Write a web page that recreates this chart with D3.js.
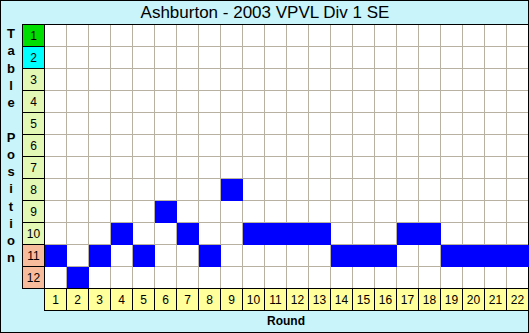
<!DOCTYPE html>
<html>
<head>
<meta charset="utf-8">
<script src="https://cdn.jsdelivr.net/npm/d3@7"></script>
<style>
  body { margin: 0; background: #fff; }
  svg { display: block; }
  text { font-family: Arial, "Liberation Sans", sans-serif; }
</style>
</head>
<body>
<script>
const title = "Ashburton - 2003 VPVL Div 1 SE";
const rounds = d3.range(1, 23);
const positions = d3.range(1, 13);
// table position after each round
const finish = [11, 12, 11, 10, 11, 9, 10, 11, 8, 10, 10, 10, 10, 11, 11, 11, 10, 10, 11, 11, 11, 11];
const yLabel = "Table Position";
const xLabel = "Round";

function posColor(p) {
  if (p === 1) return "#00dd00";
  if (p === 2) return "#00ffff";
  if (p >= 11) return "#f6bc9c";
  return "#e2f8b4";
}

const width = 529, height = 333;
const margin = { top: 24, left: 44, right: 1, bottom: 45 };

const svg = d3.select("body").append("svg").attr("width", width).attr("height", height);

// background + outer frame
svg.append("rect").attr("x", 0.5).attr("y", 0.5).attr("width", width - 1).attr("height", height - 1)
  .attr("fill", "#c8f4fa").attr("stroke", "#000");

const x = d3.scaleBand().domain(rounds).range([margin.left, width - margin.right]);
const y = d3.scaleBand().domain(positions).range([margin.top, height - margin.bottom]);

// plot background
svg.append("rect")
  .attr("x", margin.left).attr("y", margin.top)
  .attr("width", x.range()[1] - margin.left).attr("height", y.range()[1] - margin.top)
  .attr("fill", "#fff");

// grid
const grid = svg.append("g").attr("stroke", "#b8b0a0").attr("shape-rendering", "crispEdges");
grid.selectAll("line.v").data(rounds.slice(1)).join("line")
  .attr("x1", d => x(d) + 0.5).attr("x2", d => x(d) + 0.5)
  .attr("y1", y.range()[0]).attr("y2", y.range()[1]);
grid.selectAll("line.h").data(positions.slice(1)).join("line")
  .attr("y1", d => y(d) + 0.5).attr("y2", d => y(d) + 0.5)
  .attr("x1", x.range()[0]).attr("x2", x.range()[1]);

// position cells
svg.append("g").selectAll("rect").data(finish).join("rect")
  .attr("x", (d, i) => x(rounds[i]) + 0.5)
  .attr("y", d => y(d) + 0.5)
  .attr("width", x.bandwidth()).attr("height", y.bandwidth())
  .attr("fill", "#0000ff")
  .attr("shape-rendering", "crispEdges");

// y label boxes
const yl = svg.append("g").attr("shape-rendering", "crispEdges");
yl.selectAll("rect").data(positions).join("rect")
  .attr("x", margin.left - 22 + 0.5).attr("y", d => y(d) + 0.5)
  .attr("width", 22).attr("height", y.bandwidth())
  .attr("fill", posColor).attr("stroke", "#000");
svg.append("g").selectAll("text").data(positions).join("text")
  .attr("x", margin.left - 11 + 0.5).attr("y", d => y(d) + y.bandwidth() / 2 + 5)
  .attr("text-anchor", "middle").attr("font-size", 12).text(d => d);

// x label boxes
const xl = svg.append("g").attr("shape-rendering", "crispEdges");
xl.selectAll("rect").data(rounds).join("rect")
  .attr("x", d => x(d) + 0.5).attr("y", y.range()[1] + 0.5)
  .attr("width", x.bandwidth()).attr("height", 22)
  .attr("fill", "#ffff9c").attr("stroke", "#000");
svg.append("g").selectAll("text").data(rounds).join("text")
  .attr("x", d => x(d) + x.bandwidth() / 2 + 0.5).attr("y", y.range()[1] + 16)
  .attr("text-anchor", "middle").attr("font-size", 12).text(d => d);

// plot frame lines
svg.append("line").attr("x1", margin.left - 22).attr("x2", width).attr("y1", margin.top + 0.5).attr("y2", margin.top + 0.5)
  .attr("stroke", "#000");
svg.append("line").attr("x1", margin.left + 0.5).attr("x2", margin.left + 0.5).attr("y1", margin.top).attr("y2", y.range()[1] + 22)
  .attr("stroke", "#000");

// title
svg.append("text").attr("x", 265).attr("y", 18).attr("text-anchor", "middle")
  .attr("font-size", 17).text(title);

// axis titles
svg.append("text").attr("x", x.range()[0] + (x.range()[1] - x.range()[0]) / 2).attr("y", 325)
  .attr("text-anchor", "middle").attr("font-size", 12).attr("font-weight", "bold").text(xLabel);

svg.append("g").selectAll("text").data(yLabel.split("")).join("text")
  .attr("x", 11).attr("y", (d, i) => 38 + i * 17.25)
  .attr("text-anchor", "middle").attr("font-size", 13).attr("font-weight", "bold").text(d => d);
</script>
</body>
</html>
